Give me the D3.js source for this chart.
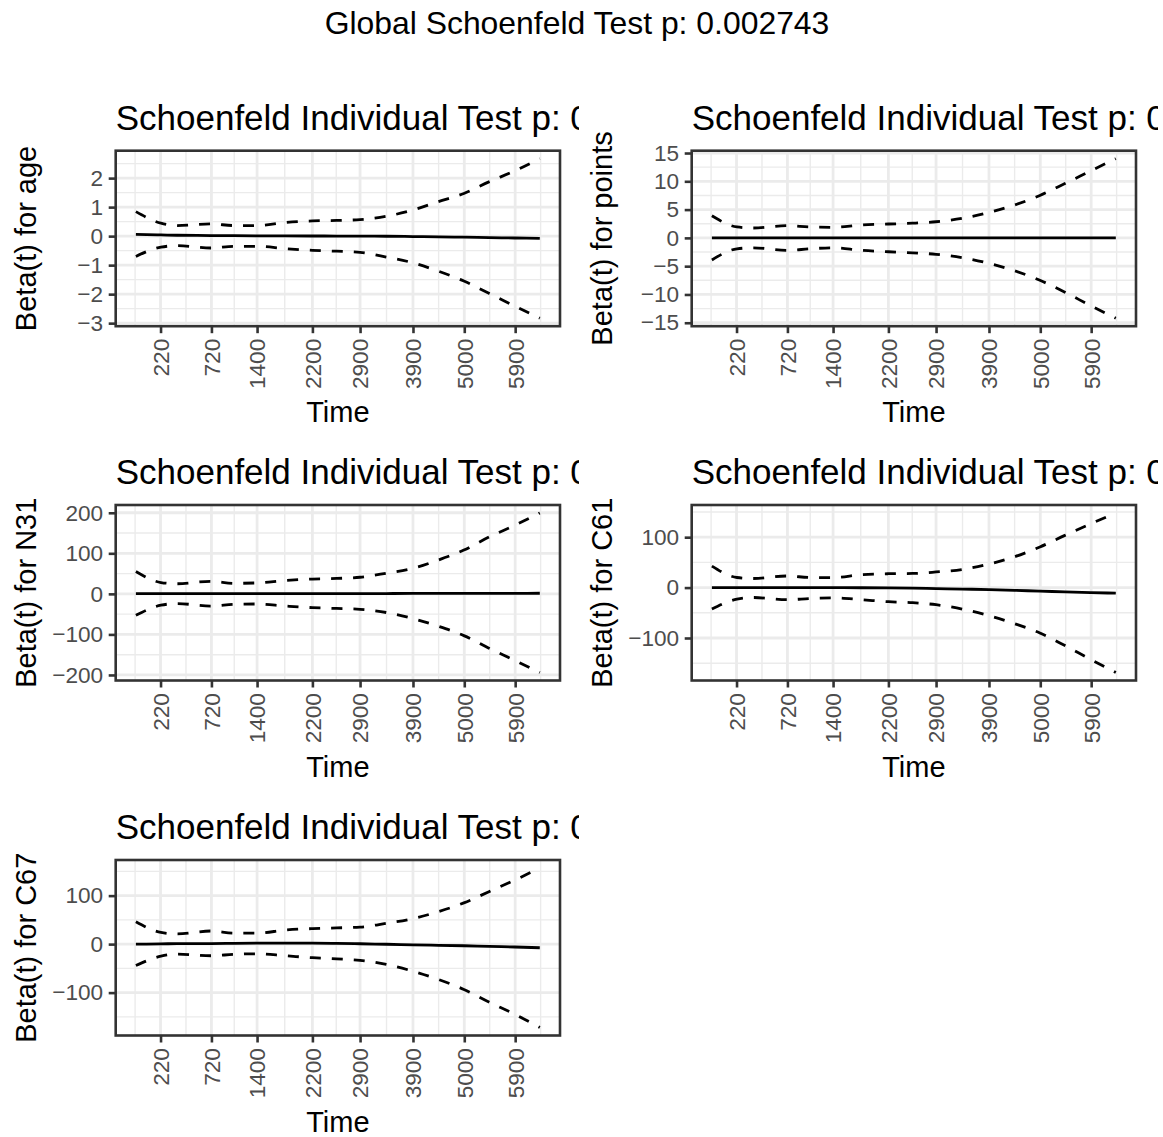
<!DOCTYPE html>
<html>
<head>
<meta charset="utf-8">
<script src="https://cdn.jsdelivr.net/npm/d3@7"></script>
<style>
  body { margin: 0; background: #ffffff; }
  svg { display: block; }
  text { font-family: "Liberation Sans", Arial, Helvetica, sans-serif; }
</style>
</head>
<body>
<svg id="chart" width="1163" height="1137"></svg>
<script>
// ---- data ---------------------------------------------------------------
// time axis is drawn on the transformed (km) scale, labelled with raw times
const timeLabels  = ["220", "720", "1400", "2200", "2900", "3900", "5000", "5900"];
const timeTickPos = [0.061, 0.187, 0.300, 0.437, 0.555, 0.686, 0.813, 0.939];

// smoothing grid on the transformed time scale
const kmTime = [0, 0.062, 0.102, 0.186, 0.243, 0.300, 0.370, 0.437, 0.497,
                0.555, 0.620, 0.686, 0.749, 0.812, 0.874, 0.938, 1.0];

const covariates = ["age", "points", "N31", "C61", "C67"];
const globalP = "0.002743";
const individualP = ["0", "0", "0", "0", "0.4775"];

const betaAge  = [0.06, 0.04, 0.03, 0.02, 0.015, 0.01, 0.008, 0.005, 0.003, 0.0, -0.005, -0.015, -0.025, -0.035, -0.05, -0.065, -0.08];
const upperAge = [0.845, 0.445, 0.365, 0.42, 0.365, 0.365, 0.47, 0.525, 0.54, 0.57, 0.685, 0.90, 1.19, 1.47, 1.87, 2.25, 2.67];
const lowerAge = [-0.70, -0.38, -0.33, -0.41, -0.35, -0.35, -0.43, -0.49, -0.52, -0.56, -0.72, -0.92, -1.21, -1.55, -1.97, -2.41, -2.83];

const betaPoints  = [0, 0, 0, 0, 0, 0, 0, 0, 0, 0, 0, 0, 0, 0, 0, 0, 0];
const upperPoints = [3.9, 1.93, 1.75, 2.16, 1.93, 1.87, 2.28, 2.45, 2.6, 2.85, 3.45, 4.5, 5.8, 7.5, 9.6, 11.85, 14.0];
const lowerPoints = [-3.9, -1.93, -1.75, -2.2, -1.93, -1.75, -2.2, -2.45, -2.65, -2.9, -3.5, -4.5, -5.8, -7.5, -9.6, -12.0, -14.2];

const betaN31  = [0.5, 0.5, 0.5, 0.5, 0.5, 0.5, 0.5, 0.5, 0.5, 0.5, 0.8, 1, 1, 1.2, 1.3, 1.4, 1.5];
const upperN31 = [55, 28, 25, 31, 26, 27, 33, 36.5, 38, 41, 51, 63, 83.5, 108, 140, 169, 199.5];
const lowerN31 = [-53, -28, -24, -30, -26, -25, -30, -34, -36, -38, -46, -61, -80, -103, -134, -164, -194];

const betaC61  = [0, 0, 0, 0, 0, 0, -0.3, -0.5, -1, -2, -3, -4, -5.5, -7, -8.5, -10, -11];
const upperC61 = [42.6, 20, 18, 23, 20, 19.7, 25.6, 27.5, 28, 31, 36, 46.5, 61, 80.6, 103.6, 126.6, 148];
const lowerC61 = [-42.6, -23, -19.7, -24, -21.6, -20.3, -24, -28, -30, -34, -42.6, -55.7, -71.5, -90, -115, -142.6, -168.5];

const betaC67  = [0, 0.5, 1, 1.2, 1.6, 2, 2, 2, 1.5, 0.7, -0.3, -1.4, -2.4, -3.4, -4.8, -6, -7.5];
const upperC67 = [46, 24, 21, 27, 22.5, 22.5, 29, 32, 33.5, 35, 43, 52.5, 67, 85, 108, 132, 157];
const lowerC67 = [-44, -25, -20.5, -24, -21, -20, -24, -28, -30.5, -33.5, -42, -56, -73, -93.5, -119.5, -144.7, -172];

const yTicksAge    = [-3, -2, -1, 0, 1, 2];
const yTicksPoints = [-15, -10, -5, 0, 5, 10, 15];
const yTicksN31    = [-200, -100, 0, 100, 200];
const yTicksC61    = [-100, 0, 100];
const yTicksC67    = [-100, 0, 100];

// ---- layout -------------------------------------------------------------
const W = 1163, H = 1137;
const colLeft = [115.7, 691.7];
const colClip = [579, 1158];
const colTitleBaseline = [35.5, 611.5];
const rowTop = [150.7, 505, 860];
const panelW = 444.3, panelH = 175.5;

const FS_TITLE = 35, FS_AXTITLE = 29, FS_TICK = 22.6, FS_GLOBAL = 31.9;
const tickLen = 7, tickPad = 5.6;
const grid = "#EBEBEB";

const panels = [
  { name: covariates[0], p: individualP[0], beta: betaAge,    up: upperAge,    lo: lowerAge,    yt: yTicksAge,    col: 0, row: 0 },
  { name: covariates[1], p: individualP[1], beta: betaPoints, up: upperPoints, lo: lowerPoints, yt: yTicksPoints, col: 1, row: 0 },
  { name: covariates[2], p: individualP[2], beta: betaN31,    up: upperN31,    lo: lowerN31,    yt: yTicksN31,    col: 0, row: 1 },
  { name: covariates[3], p: individualP[3], beta: betaC61,    up: upperC61,    lo: lowerC61,    yt: yTicksC61,    col: 1, row: 1 },
  { name: covariates[4], p: individualP[4], beta: betaC67,    up: upperC67,    lo: lowerC67,    yt: yTicksC67,    col: 0, row: 2 }
];

const svg = d3.select("#chart");
svg.append("rect").attr("width", W).attr("height", H).attr("fill", "#ffffff");

const defs = svg.append("defs");
colClip.forEach((cx, i) => {
  defs.append("clipPath").attr("id", "titleclip" + i)
    .append("rect").attr("x", 0).attr("y", 0).attr("width", cx).attr("height", H);
});

// global title
svg.append("text")
  .attr("x", 577).attr("y", 34)
  .attr("text-anchor", "middle")
  .attr("font-size", FS_GLOBAL)
  .attr("fill", "#000")
  .text("Global Schoenfeld Test p: " + globalP);

// minor breaks: midpoints between major breaks, extended one half-step at both ends
function minorBreaks(major) {
  const out = [];
  for (let i = 0; i < major.length - 1; i++) out.push((major[i] + major[i + 1]) / 2);
  const s0 = major[1] - major[0], s1 = major[major.length - 1] - major[major.length - 2];
  out.unshift(major[0] - s0 / 2);
  out.push(major[major.length - 1] + s1 / 2);
  return out;
}

panels.forEach(p => {
  const left = colLeft[p.col], top = rowTop[p.row];
  const right = left + panelW, bottom = top + panelH;
  const g = svg.append("g");

  const x = d3.scaleLinear().domain([-0.05, 1.05]).range([left, right]);
  const lo = d3.min(p.lo), hi = d3.max(p.up), pad = (hi - lo) * 0.05;
  const y = d3.scaleLinear().domain([lo - pad, hi + pad]).range([bottom, top]);

  // panel background
  g.append("rect").attr("x", left).attr("y", top).attr("width", panelW).attr("height", panelH).attr("fill", "#fff");

  // minor grid
  const xMinor = minorBreaks(timeTickPos).filter(v => v >= -0.05 && v <= 1.05);
  const yMinor = minorBreaks(p.yt).filter(v => v >= y.domain()[0] && v <= y.domain()[1]);
  g.selectAll(null).data(xMinor).enter().append("line")
    .attr("x1", d => x(d)).attr("x2", d => x(d)).attr("y1", top).attr("y2", bottom)
    .attr("stroke", grid).attr("stroke-width", 1.4);
  g.selectAll(null).data(yMinor).enter().append("line")
    .attr("y1", d => y(d)).attr("y2", d => y(d)).attr("x1", left).attr("x2", right)
    .attr("stroke", grid).attr("stroke-width", 1.4);
  // major grid
  g.selectAll(null).data(timeTickPos).enter().append("line")
    .attr("x1", d => x(d)).attr("x2", d => x(d)).attr("y1", top).attr("y2", bottom)
    .attr("stroke", grid).attr("stroke-width", 2.8);
  g.selectAll(null).data(p.yt).enter().append("line")
    .attr("y1", d => y(d)).attr("y2", d => y(d)).attr("x1", left).attr("x2", right)
    .attr("stroke", grid).attr("stroke-width", 2.8);

  // fitted beta(t) and +/- 2 se bands
  const line = vals => d3.line().curve(d3.curveMonotoneX)
    .x((d, i) => x(kmTime[i])).y(d => y(d))(vals);
  g.append("path").attr("d", line(p.up)).attr("fill", "none")
    .attr("stroke", "#000").attr("stroke-width", 2.8).attr("stroke-dasharray", "11,11");
  g.append("path").attr("d", line(p.lo)).attr("fill", "none")
    .attr("stroke", "#000").attr("stroke-width", 2.8).attr("stroke-dasharray", "11,11");
  g.append("path").attr("d", line(p.beta)).attr("fill", "none")
    .attr("stroke", "#000").attr("stroke-width", 2.8);

  // panel border
  g.append("rect").attr("x", left).attr("y", top).attr("width", panelW).attr("height", panelH)
    .attr("fill", "none").attr("stroke", "#333333").attr("stroke-width", 2.6);

  // y axis
  const ya = g.append("g").attr("transform", `translate(${left},0)`)
    .call(d3.axisLeft(y).tickValues(p.yt).tickSize(tickLen).tickPadding(tickPad).tickFormat(d3.format("d")));
  ya.select(".domain").remove();
  ya.selectAll(".tick line").attr("stroke", "#333333").attr("stroke-width", 2.6);
  ya.selectAll(".tick text").attr("fill", "#4D4D4D").attr("font-size", FS_TICK)
    .attr("font-family", "'Liberation Sans', Arial, sans-serif");

  // x axis (labels rotated)
  const xa = g.append("g").attr("transform", `translate(0,${bottom})`)
    .call(d3.axisBottom(x).tickValues(timeTickPos).tickSize(tickLen).tickFormat((d, i) => timeLabels[i]));
  xa.select(".domain").remove();
  xa.selectAll(".tick line").attr("stroke", "#333333").attr("stroke-width", 2.6);
  xa.selectAll(".tick text")
    .attr("fill", "#4D4D4D").attr("font-size", FS_TICK)
    .attr("font-family", "'Liberation Sans', Arial, sans-serif")
    .attr("text-anchor", "end")
    .attr("x", 0).attr("y", 0).attr("dy", "0.35em")
    .attr("transform", `translate(0,${tickLen + tickPad}) rotate(-90)`);

  // axis titles
  g.append("text")
    .attr("x", (left + right) / 2).attr("y", bottom + 96)
    .attr("text-anchor", "middle").attr("font-size", FS_AXTITLE).attr("fill", "#000")
    .text("Time");
  g.append("text")
    .attr("transform", `translate(${colTitleBaseline[p.col]},${(top + bottom) / 2}) rotate(-90)`)
    .attr("text-anchor", "middle").attr("font-size", FS_AXTITLE).attr("fill", "#000")
    .text("Beta(t) for " + p.name);

  // panel title
  g.append("text")
    .attr("clip-path", `url(#titleclip${p.col})`)
    .attr("x", left).attr("y", top - 21)
    .attr("font-size", FS_TITLE).attr("fill", "#000")
    .text("Schoenfeld Individual Test p: " + p.p);
});
</script>
</body>
</html>
